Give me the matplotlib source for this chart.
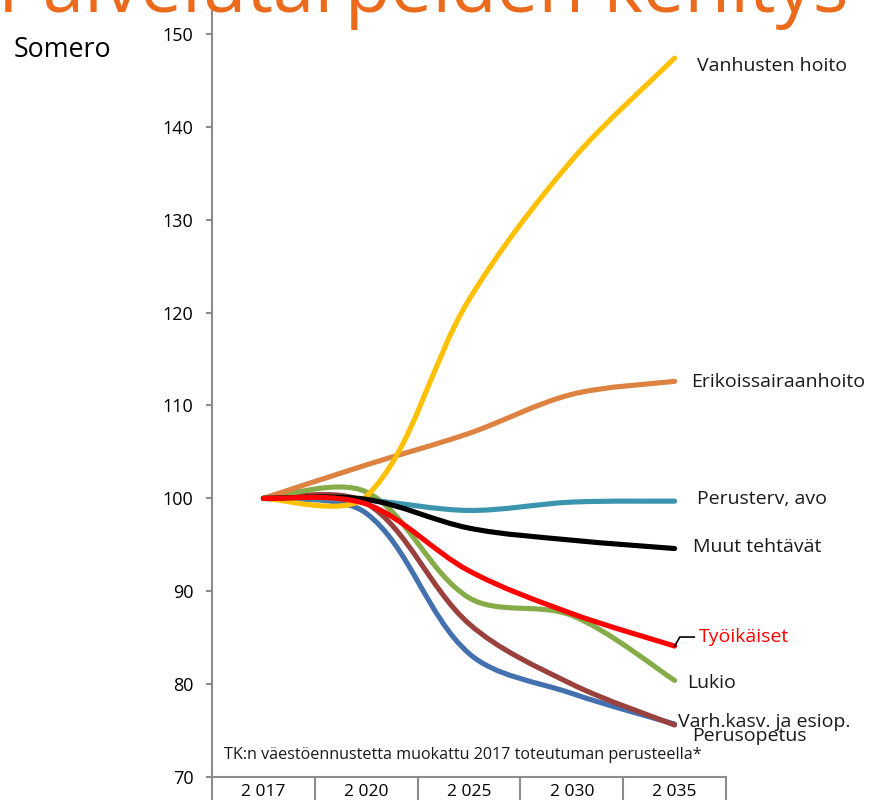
import matplotlib
matplotlib.use('Agg')
import matplotlib.pyplot as plt
from matplotlib.path import Path
from matplotlib.patches import PathPatch

plt.rcParams['font.family'] = ['Open Sans', 'DejaVu Sans']

# data (index, 2017 = 100)
years = ['2 017', '2 020', '2 025', '2 030', '2 035']
vanhusten = [100, 100.2, 121.4, 136.4, 147.4]
erikois = [100, 103.6, 107.0, 111.2, 112.6]
perusterv = [100, 99.8, 98.7, 99.6, 99.7]
muut = [100, 99.9, 96.8, 95.5, 94.6]
tyoikaiset = [100, 99.4, 92.2, 87.6, 84.1]
lukio = [100, 100.7, 89.3, 87.4, 80.4]
varh = [100, 99.5, 86.5, 80.0, 75.6]
perusopetus = [100, 98.4, 83.3, 79.0, 75.7]

# name, values, colour, label offset (px), label colour  -- drawn bottom to top
series = [
    ('Perusopetus', perusopetus, '#4371B0', (18, -12), '#1A1A1A'),
    ('Varh.kasv. ja esiop.', varh, '#9A413E', (3, 3), '#1A1A1A'),
    ('Lukio', lukio, '#86AC49', (13, -3), '#1A1A1A'),
    ('Erikoissairaanhoito', erikois, '#DD8240', (17, -1), '#1A1A1A'),
    ('Perusterv, avo', perusterv, '#3C95AE', (22, 2), '#1A1A1A'),
    ('Vanhusten hoito', vanhusten, '#FFC000', (22, -8), '#1A1A1A'),
    ('Muut tehtävät', muut, '#000000', (18, 2), '#1A1A1A'),
    ('Työikäiset', tyoikaiset, '#FF0000', (24, 9), '#FF0000'),
]


def smooth_path(xs, ys, sx, sy, f=1 / 3):
    # excel-like smoothed line: bezier handles scaled by segment lengths on screen
    P = [(a * sx, b * sy) for a, b in zip(xs, ys)]
    n = len(P)
    hin = [None] * n
    hout = [None] * n
    for i in range(n):
        if i == 0:
            hout[i] = (P[0][0] + (P[1][0] - P[0][0]) / 6, P[0][1] + (P[1][1] - P[0][1]) / 6)
            continue
        if i == n - 1:
            hin[i] = (P[i][0] - (P[i][0] - P[i - 1][0]) / 6, P[i][1] - (P[i][1] - P[i - 1][1]) / 6)
            continue
        d0 = ((P[i][0] - P[i - 1][0]) ** 2 + (P[i][1] - P[i - 1][1]) ** 2) ** 0.5
        d1 = ((P[i + 1][0] - P[i][0]) ** 2 + (P[i + 1][1] - P[i][1]) ** 2) ** 0.5
        tx = P[i + 1][0] - P[i - 1][0]
        ty = P[i + 1][1] - P[i - 1][1]
        k0 = f * d0 / (d0 + d1)
        k1 = f * d1 / (d0 + d1)
        hin[i] = (P[i][0] - k0 * tx, P[i][1] - k0 * ty)
        hout[i] = (P[i][0] + k1 * tx, P[i][1] + k1 * ty)
    verts = [P[0]]
    codes = [Path.MOVETO]
    for i in range(n - 1):
        verts += [hout[i], hin[i + 1], P[i + 1]]
        codes += [Path.CURVE4] * 3
    verts = [(a / sx, b / sy) for a, b in verts]
    return Path(verts, codes)


fig = plt.figure(figsize=(8.69, 8), dpi=100)
ax = fig.add_axes([212 / 869, 23 / 800, 514 / 869, 777 / 800])

ax.set_xlim(-0.5, len(years) - 0.5)
ax.set_ylim(70, 70 + 777 / 9.2875)
# pixels per data unit, for the smoothing
sx = 514 / len(years)
sy = 9.2875

grey = '#8C8C8C'
x = list(range(len(years)))
for name, vals, col, off, tcol in series:
    patch = PathPatch(smooth_path(x, vals, sx, sy), fill=False, edgecolor=col, lw=3.7,
                      capstyle='round', joinstyle='round')
    ax.add_patch(patch)
    if name == 'Työikäiset':
        ax.annotate(name, xy=(x[-1], vals[-1]), xytext=off, textcoords='offset pixels',
                    ha='left', va='center', fontsize=14, color=tcol,
                    arrowprops=dict(arrowstyle='-', color='black', lw=1.2,
                                    shrinkA=1, shrinkB=0,
                                    connectionstyle='angle,angleA=0,angleB=60,rad=0'))
    else:
        ax.annotate(name, xy=(x[-1], vals[-1]), xytext=off, textcoords='offset pixels',
                    ha='left', va='center', fontsize=14, color=tcol)

ax.set_yticks(range(70, 151, 10))
ax.set_xticks(x)
ax.set_xticklabels(years, fontsize=12.5)
ax.set_xticks([i - 0.5 for i in range(len(years) + 1)], minor=True)
ax.tick_params(axis='x', which='major', length=0, pad=5)
ax.tick_params(axis='x', which='minor', length=17, width=1.5, color=grey, direction='out')
ax.tick_params(axis='y', length=4.5, width=1.5, color=grey, labelsize=13, pad=9)
for s in ['top', 'right']:
    ax.spines[s].set_visible(False)
for s in ['left', 'bottom']:
    ax.spines[s].set_color(grey)
    ax.spines[s].set_linewidth(1.5)

fig.text(14 / 869, 1 - 57 / 800, 'Somero', fontsize=19.3, va='baseline', ha='left')
fig.text(224 / 869, 1 - 755 / 800, 'TK:n väestöennustetta muokattu 2017 toteutuman perusteella*',
         fontsize=11.6, va='center', ha='left', color='#1A1A1A')

# big title, cut off at the top like in the slide
title = fig.text(-2 / 869, 1 - 12 / 800, 'Palvelutarpeiden kehitys', fontsize=49,
                 color='#EC6A1C', va='baseline', ha='left')
r = fig.canvas.get_renderer()
w = title.get_window_extent(r).width
title.set_fontsize(49 * 849 / w)

fig.savefig('out.png', dpi=100)
